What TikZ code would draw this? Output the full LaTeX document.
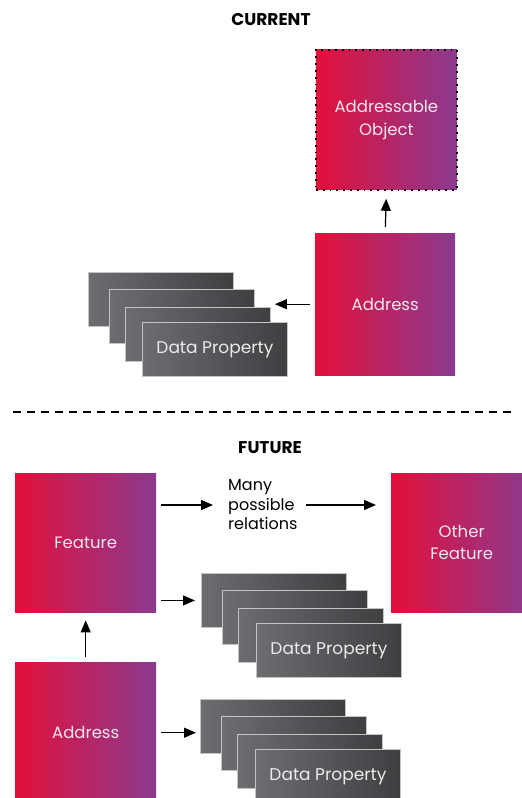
\documentclass[tikz,border=0pt]{standalone}
\usepackage{fontspec}
\setmainfont{Poppins}
\usepackage{xcolor}
\usetikzlibrary{positioning,arrows.meta}

\definecolor{crim}{HTML}{E2103A}
\definecolor{plum}{HTML}{8B3A8F}
\definecolor{boxtxt}{HTML}{F6E8EE}
\definecolor{dpleft}{HTML}{6C6D70}
\definecolor{dpright}{HTML}{3F3F42}
\definecolor{dpedge}{HTML}{C4C4C4}

\begin{document}
\begin{tikzpicture}[x=1pt, y=-1pt,
    grad/.style={anchor=north west, inner sep=0pt, minimum width=141pt, minimum height=140pt,
                 left color=crim, right color=plum, text=boxtxt, align=center,
                 font=\fontsize{16.5}{22.5}\selectfont},
    dp/.style={anchor=north west, inner sep=0pt, minimum width=145pt, minimum height=54pt,
               draw=dpedge, line width=0.9pt, left color=dpleft, right color=dpright,
               text=white!92!black, font=\fontsize{17}{20}\selectfont},
    ttl/.style={font=\bfseries\fontsize{17}{20}\selectfont},
    rel/.style={anchor=west, inner sep=0pt, align=left, font=\fontsize{16}{19.5}\selectfont},
    arr/.style={-{Triangle[length=12pt,width=10pt]}, line width=1.2pt}
  ]
  \path[use as bounding box, clip] (0,0) rectangle (522,798);

  % Current
  \node[ttl] (curt) at (271,20) {CURRENT};
  \node[grad, minimum height=140pt, draw=black, line width=1.8pt,
        dash pattern=on 1.8pt off 5pt] (obj) at (315,49) {Addressable\\Object};
  \node[grad, minimum width=140pt, minimum height=142pt] (addr1) at (315,233) {Address};
  \foreach \i/\dx/\dy in {a/0/0, b/21/17, c/37/35}
    \node[dp] (cur\i) at ({88+\dx},{272+\dy}) {};
  \node[dp] (curd) at (142,322) {Data Property};

  \draw[arr, shorten <=6pt, shorten >=8pt] (addr1.north) -- (obj.south);
  \draw[arr, shorten <=5pt, shorten >=4pt] (addr1.west) -- (addr1.west -| curc.east);

  % Separator
  \draw[line width=1.3pt, dash pattern=on 8pt off 6pt] (13,412) -- (516,412);

  % Future
  \node[ttl] (futt) at (270,448) {FUTURE};
  \node[grad, minimum height=139pt] (feat) at (15,473) {Feature};
  \node[grad, minimum height=139pt] (other) at (391,473) {Other\\Feature};
  \node[grad, minimum height=141pt] (addr2) at (15,662) {Address};
  \node[rel] (many) at (228,505) {Many\\possible\\relations};

  \foreach \i/\dx/\dy in {a/0/0, b/21/17, c/37/35}
    \node[dp] (fa\i) at ({201+\dx},{573+\dy}) {};
  \node[dp] (fad) at (256,623) {Data Property};
  \foreach \i/\dx/\dy in {a/0/0, b/21/17, c/37/35}
    \node[dp] (fb\i) at ({200+\dx},{699+\dy}) {};
  \node[dp] (fbd) at (255,749) {Data Property};

  \draw[arr, shorten <=5pt, shorten >=15pt] (feat.east |- many.west) -- (many.west);
  \draw[arr, shorten <=8pt, shorten >=15pt] (many.east) -- (many.east -| other.west);
  \draw[arr, shorten <=5pt, shorten >=6pt] (feat.east |- faa.west) -- (faa.west);
  \draw[arr, shorten <=5pt, shorten >=8pt] (addr2.north) -- (feat.south);
  \draw[arr, shorten <=5pt, shorten >=4pt] (addr2.east) -- (addr2.east -| fba.west);
\end{tikzpicture}
\end{document}
